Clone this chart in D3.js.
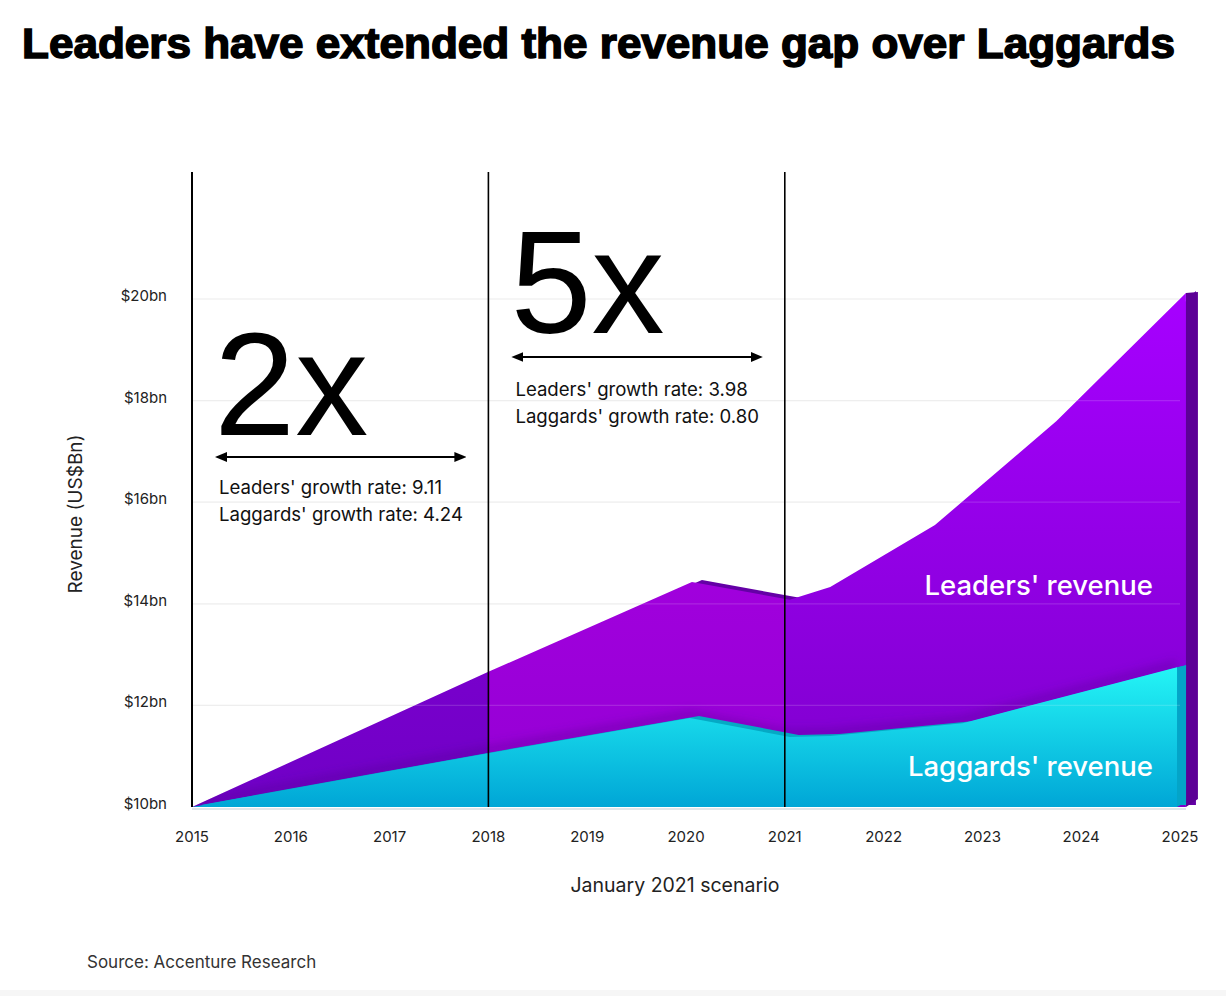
<!DOCTYPE html>
<html>
<head>
<meta charset="utf-8">
<script src="https://cdn.jsdelivr.net/npm/d3@7"></script>
<style>
  html, body { margin: 0; padding: 0; background: #ffffff; }
  svg { display: block; }
</style>
</head>
<body>
<div id="chart"></div>
<script>
// ---------------- data ----------------
const title = "Leaders have extended the revenue gap over Laggards";
const xTickLabels = [2015, 2016, 2017, 2018, 2019, 2020, 2021, 2022, 2023, 2024, 2025];
const yTickValues = [10, 12, 14, 16, 18, 20];
const leadersX = [2015, 2018, 2020.06, 2021.05, 2021.46, 2022.52, 2023.75, 2025.06];
const leadersY = [10, 12.66, 14.43, 14.08, 14.33, 15.55, 17.6, 20.12];
const laggardsX = [2015, 2018, 2020.04, 2021.05, 2021.46, 2022.8, 2024.97];
const laggardsY = [10, 11.06, 11.75, 11.38, 11.4, 11.65, 12.75];
const dividerYears = [2015, 2018, 2021];
const phaseFrom = [2015, 2018];
const phaseTo = [2018, 2021];
const phaseMultiple = ["2x", "5x"];
const phaseLeadersRate = ["9.11", "3.98"];
const phaseLaggardsRate = ["4.24", "0.80"];
const seriesNames = ["Leaders' revenue", "Laggards' revenue"];
const xTitle = "January 2021 scenario";
const yTitle = "Revenue (US$Bn)";
const source = "Source: Accenture Research";

// ---------------- setup ----------------
const W = 1226, H = 996;
const FONT = "Inter, 'Noto Sans', sans-serif";
const svg = d3.select("#chart").append("svg").attr("width", W).attr("height", H);

const x = d3.scaleLinear().domain([2015, 2025]).range([192, 1180]);
const y = d3.scaleLinear().domain([10, 20]).range([807, 299]);

const leaders = leadersX.map((v, i) => ({ x: v, y: leadersY[i] }));
const laggards = laggardsX.map((v, i) => ({ x: v, y: laggardsY[i] }));

const defs = svg.append("defs");
function vGrad(id, stops, y1, y2) {
  const g = defs.append("linearGradient").attr("id", id)
    .attr("gradientUnits", "userSpaceOnUse")
    .attr("x1", 0).attr("x2", 0).attr("y1", y1).attr("y2", y2);
  stops.forEach(s => g.append("stop").attr("offset", s[0]).attr("stop-color", s[1]));
}
vGrad("gA", [[0, "#8e00dc"], [1, "#7000c6"]], y(20), y(10));
vGrad("gB", [[0, "#b000e8"], [1, "#9400d4"]], y(20), y(10));
vGrad("gC", [[0, "#a600ff"], [1, "#7e00cc"]], y(20), y(10));
vGrad("gL", [[0, "#25f6f6"], [1, "#00a6d6"]], y(12.8), y(10));

defs.append("filter").attr("id", "blur").attr("x", "-10%").attr("y", "-50%").attr("width", "120%").attr("height", "200%")
  .append("feGaussianBlur").attr("stdDeviation", 5);

// background bottom band
svg.append("rect").attr("x", 0).attr("y", 990).attr("width", W).attr("height", 6).attr("fill", "#f6f6f6");

// title
svg.append("text").attr("x", 22).attr("y", 58)
  .attr("font-family", "'Liberation Sans', Arial, sans-serif").attr("font-weight", 900)
  .attr("font-size", 42).attr("fill", "#000").attr("stroke", "#000").attr("stroke-width", 1.5)
  .attr("textLength", 1153).attr("lengthAdjust", "spacingAndGlyphs")
  .text(title);

// gridlines (under)
svg.append("g").selectAll("line").data(yTickValues.slice(1)).join("line")
  .attr("x1", x(2015)).attr("x2", x(2025)).attr("y1", d => y(d)).attr("y2", d => y(d))
  .attr("stroke", "#ececec").attr("stroke-width", 1.2);

// y tick labels
svg.append("g").selectAll("text").data(yTickValues).join("text")
  .attr("x", 167).attr("y", d => y(d) + 2)
  .attr("text-anchor", "end").attr("font-family", FONT).attr("font-size", 15)
  .attr("fill", "#222").text(d => "$" + d + "bn");

// y axis title
svg.append("text").attr("transform", "translate(82,514) rotate(-90)")
  .attr("text-anchor", "middle").attr("font-family", FONT).attr("font-size", 19)
  .attr("fill", "#222").text(yTitle);

// x tick labels
svg.append("g").selectAll("text").data(xTickLabels).join("text")
  .attr("x", d => x(d)).attr("y", 842)
  .attr("text-anchor", "middle").attr("font-family", FONT).attr("font-size", 15)
  .attr("fill", "#222").text(d => d);

svg.append("text").attr("x", 675).attr("y", 892).attr("text-anchor", "middle")
  .attr("font-family", FONT).attr("font-size", 19.5).attr("fill", "#222").text(xTitle);

svg.append("text").attr("x", 87).attr("y", 968)
  .attr("font-family", FONT).attr("font-size", 17).attr("fill", "#333").text(source);

// ---------------- areas ----------------
const area = d3.area().x(d => x(d.x)).y0(y(10)).y1(d => y(d.y));
const line = d3.line().x(d => x(d.x)).y(d => y(d.y));
const DX = 10, DY = -2;

// baseline shadow
svg.append("line").attr("x1", x(2015)).attr("x2", x(2025) + 6).attr("y1", y(10) + 2).attr("y2", y(10) + 2)
  .attr("stroke", "#dfe6ea").attr("stroke-width", 2);

// leaders back (extrusion)
svg.append("path").datum(leaders).attr("d", area)
  .attr("transform", `translate(${DX},${DY})`).attr("fill", "#6400a6");
// leaders side face
const lLast = leaders[leaders.length - 1];
svg.append("path")
  .attr("d", `M${x(lLast.x)},${y(lLast.y)} L${x(lLast.x) + 12},${y(lLast.y) - 1} L${x(lLast.x) + 12},${y(10) - 8} L${x(lLast.x)},${y(10)} Z`)
  .attr("fill", "#5c0096");

// leaders front face, three panels
const clipLead = defs.append("clipPath").attr("id", "clipLead");
clipLead.append("path").datum(leaders).attr("d", area);
const panels = [[2015, 2018, "url(#gA)"], [2018, 2021, "url(#gB)"], [2021, 2026, "url(#gC)"]];
const leadG = svg.append("g").attr("clip-path", "url(#clipLead)");
leadG.selectAll("rect").data(panels).join("rect")
  .attr("x", d => x(d[0])).attr("width", d => x(d[1]) - x(d[0]))
  .attr("y", y(21)).attr("height", y(10) - y(21)).attr("fill", d => d[2]);
// shadow above laggards
leadG.append("path").datum(laggards).attr("d", line)
  .attr("transform", "translate(0,-3)")
  .attr("fill", "none").attr("stroke", "#4a0080").attr("stroke-opacity", 0.35)
  .attr("stroke-width", 8).attr("filter", "url(#blur)");

// laggards back (extrusion)
svg.append("path").datum(laggards).attr("d", area)
  .attr("transform", `translate(${DX - 1},${DY})`).attr("fill", "#05a9c4");
const gLast = laggards[laggards.length - 1];
svg.append("path")
  .attr("d", `M${x(gLast.x)},${y(gLast.y)} L${x(gLast.x) + 9},${y(gLast.y) - 2} L${x(gLast.x) + 9},${y(10) - 5} L${x(gLast.x)},${y(10)} Z`)
  .attr("fill", "#04a4c8");
// laggards front
svg.append("path").datum(laggards).attr("d", area).attr("fill", "url(#gL)");

// gridlines on top (faint)
svg.append("g").selectAll("line").data(yTickValues.slice(1)).join("line")
  .attr("x1", x(2015)).attr("x2", x(2025)).attr("y1", d => y(d)).attr("y2", d => y(d))
  .attr("stroke", "#ffffff").attr("stroke-opacity", 0.14).attr("stroke-width", 1.2);

// series labels
svg.append("text").attr("x", 1153).attr("y", 595).attr("text-anchor", "end")
  .attr("font-family", FONT).attr("font-weight", 500).attr("font-size", 27.5)
  .attr("fill", "#fff").text(seriesNames[0]);
svg.append("text").attr("x", 1153).attr("y", 776).attr("text-anchor", "end")
  .attr("font-family", FONT).attr("font-weight", 500).attr("font-size", 27.5)
  .attr("fill", "#fff").text(seriesNames[1]);

// vertical dividers
svg.append("g").selectAll("line").data(dividerYears).join("line")
  .attr("x1", d => x(d)).attr("x2", d => x(d)).attr("y1", 172).attr("y2", y(10))
  .attr("stroke", "#000").attr("stroke-width", (d, i) => i === 0 ? 2 : 1.6);

// arrow markers
function marker(id, path) {
  defs.append("marker").attr("id", id).attr("viewBox", "0 0 12 12")
    .attr("refX", 6).attr("refY", 6).attr("markerWidth", 12).attr("markerHeight", 12)
    .attr("markerUnits", "userSpaceOnUse").attr("orient", "auto")
    .append("path").attr("d", path).attr("fill", "#000");
}
marker("arrEnd", "M0,1 L12,6 L0,11 Z");
marker("arrStart", "M12,1 L0,6 L12,11 Z");

// phase annotations (layout positions)
const bigBase = [435, 333];
const arrowY = [457, 357];
const textBase = [494, 396];
phaseFrom.forEach((f, i) => {
  const x0 = x(f) + 24, x1 = x(phaseTo[i]) - 23;
  const g = svg.append("g");
  g.append("text").attr("x", x0 - 2).attr("y", bigBase[i])
    .attr("font-family", "'Liberation Sans', Arial, sans-serif").attr("font-size", 146)
    .attr("fill", "#000").text(phaseMultiple[i]);
  g.append("line").attr("x1", x0 + 5).attr("x2", x1 - 5).attr("y1", arrowY[i]).attr("y2", arrowY[i])
    .attr("stroke", "#000").attr("stroke-width", 2)
    .attr("marker-start", "url(#arrStart)").attr("marker-end", "url(#arrEnd)");
  g.append("text").attr("x", x0 + 3).attr("y", textBase[i])
    .attr("font-family", FONT).attr("font-size", 18.6).attr("fill", "#111")
    .text("Leaders' growth rate: " + phaseLeadersRate[i]);
  g.append("text").attr("x", x0 + 3).attr("y", textBase[i] + 27)
    .attr("font-family", FONT).attr("font-size", 18.6).attr("fill", "#111")
    .text("Laggards' growth rate: " + phaseLaggardsRate[i]);
});
</script>
</body>
</html>
